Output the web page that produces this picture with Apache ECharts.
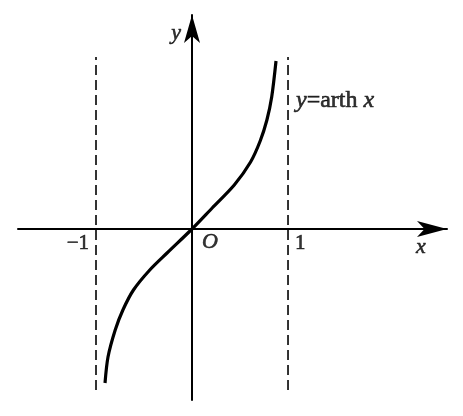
<!DOCTYPE html>
<html>
<head>
<meta charset="utf-8">
<script src="https://cdn.jsdelivr.net/npm/echarts@6/dist/echarts.min.js"></script>
<style>html,body{margin:0;padding:0;background:#fff}#c{width:463px;height:416px}</style>
</head>
<body>
<div id="c"></div>
<script>
// Data (x in units, y in units)
const curveX = [-0.906, -0.875, -0.80, -0.72, -0.61, -0.44, -0.26, 0, 0.21, 0.44, 0.61, 0.71, 0.78, 0.83, 0.875];
const curveY = [-1.54, -1.28, -1.01, -0.81, -0.61, -0.41, -0.24, 0, 0.21, 0.44, 0.67, 0.88, 1.09, 1.32, 1.68];
const asymptotes = [-1, 1];
const asymptoteRange = [-1.61, 1.72];
const tickValues = [-1, 1];
const tickLabels = ['−1', '1'];
const xRange = [-1.8125, 2.656];
const yRange = [-1.71, 2.14];

const serif = '"Liberation Serif", "DejaVu Serif", serif';
const chart = echarts.init(document.getElementById('c'));

const curveData = curveX.map((x, i) => [x, curveY[i]]);
const dashSeries = asymptotes.map(a => ({
  type: 'line', data: [[a, asymptoteRange[0]], [a, asymptoteRange[1]]],
  symbol: 'none', silent: true,
  lineStyle: { color: '#000', width: 1.6, type: [10, 5] }
}));

const tickLabelData = tickValues.map((v, i) => ({
  value: [v, 0], name: tickLabels[i],
  label: { position: v < 0 ? 'left' : 'right', offset: v < 0 ? [-2, 14] : [2, 14] }
}));

const ink = { color: '#000', textBorderColor: '#000', textBorderWidth: 0.6 };

const option = {
  animation: false,
  backgroundColor: '#fff',
  grid: { left: 18, right: 16, top: 15, bottom: 16 },
  xAxis: {
    type: 'value', min: xRange[0], max: xRange[1],
    axisLine: { onZero: true, symbol: ['none', 'arrow'], symbolSize: [12, 30],
      lineStyle: { color: '#000', width: 2 } },
    axisTick: { show: false }, axisLabel: { show: false }, splitLine: { show: false }
  },
  yAxis: {
    type: 'value', min: yRange[0], max: yRange[1],
    axisLine: { onZero: true, symbol: ['none', 'arrow'], symbolSize: [12, 28],
      lineStyle: { color: '#000', width: 2 } },
    axisTick: { show: false }, axisLabel: { show: false }, splitLine: { show: false }
  },
  series: [
    ...dashSeries,
    {
      type: 'line', data: curveData, symbol: 'none', smooth: 0.3, silent: true,
      lineStyle: { color: '#000', width: 3.2 }
    },
    {
      type: 'scatter', symbolSize: 0, silent: true,
      label: Object.assign({ show: true, formatter: p => p.name, fontFamily: serif, fontSize: 21 }, ink),
      data: tickLabelData
    },
    {
      type: 'scatter', symbolSize: 0, silent: true,
      label: Object.assign({ show: true, fontFamily: serif, fontSize: 22, fontStyle: 'italic' }, ink),
      data: [
        { value: [0, 0], name: 'O', label: { formatter: 'O', position: 'right', offset: [5, 13] } },
        { value: [xRange[1], 0], name: 'x', label: { formatter: 'x', position: 'bottom', offset: [-26, 2] } },
        { value: [0, yRange[1]], name: 'y', label: { formatter: 'y', position: 'left', offset: [-6, 18] } },
        { value: [1, 1.28], name: 'eq', label: {
            position: 'right', offset: [3, 0], fontStyle: 'normal', fontSize: 24,
            formatter: '{i|y}=arth {i|x}',
            rich: { i: Object.assign({ fontStyle: 'italic', fontFamily: serif, fontSize: 24 }, ink) }
          } }
      ]
    }
  ]
};
chart.setOption(option);
</script>
</body>
</html>
